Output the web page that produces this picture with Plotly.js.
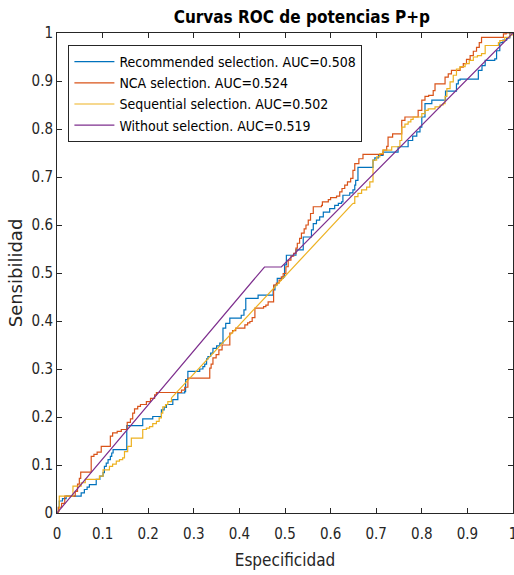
<!DOCTYPE html>
<html>
<head>
<meta charset="utf-8">
<script src="https://cdn.plot.ly/plotly-3.0.1.min.js"></script>
<style>html,body{margin:0;padding:0;background:#fff;overflow:hidden;}#plot{width:514px;height:575px;}</style>
</head>
<body>
<div id="plot"></div>
<script>
// ---- Data ----
const seriesNames = [
  "Recommended selection. AUC=0.508",
  "NCA selection. AUC=0.524",
  "Sequential selection. AUC=0.502",
  "Without selection. AUC=0.519"
];
const tickVals = [0,0.1,0.2,0.3,0.4,0.5,0.6,0.7,0.8,0.9,1];
const tickText = ["0","0.1","0.2","0.3","0.4","0.5","0.6","0.7","0.8","0.9","1"];

// Recommended selection (staircase corners)
const recX = [0,0.003,0.005,0.012,0.020,0.053,0.060,0.066,0.071,0.086,0.094,0.101,0.104,0.108,0.112,0.117,0.120,0.123,0.153,0.188,0.210,0.229,0.235,0.240,0.254,0.265,0.280,0.282,0.287,0.313,0.320,0.324,0.328,0.331,0.337,0.342,0.350,0.357,0.364,0.370,0.379,0.404,0.410,0.414,0.441,0.474,0.478,0.483,0.496,0.499,0.503,0.524,0.540,0.558,0.562,0.569,0.576,0.584,0.598,0.609,0.617,0.624,0.627,0.642,0.649,0.653,0.655,0.660,0.693,0.697,0.705,0.715,0.748,0.770,0.780,0.789,0.796,0.800,0.807,0.822,0.852,0.876,0.880,0.884,0.924,0.932,0.939,0.960,0.964,0.971,0.978,0.986,0.993,1];
const recY = [0,0.012,0.025,0.030,0.035,0.042,0.049,0.054,0.059,0.070,0.077,0.084,0.097,0.104,0.111,0.118,0.125,0.132,0.182,0.196,0.201,0.215,0.220,0.226,0.236,0.250,0.253,0.278,0.295,0.300,0.305,0.310,0.321,0.326,0.333,0.343,0.348,0.354,0.385,0.395,0.406,0.412,0.423,0.447,0.454,0.465,0.475,0.489,0.492,0.517,0.537,0.548,0.575,0.590,0.603,0.610,0.617,0.627,0.634,0.641,0.645,0.648,0.662,0.667,0.673,0.683,0.693,0.720,0.735,0.740,0.745,0.752,0.763,0.776,0.785,0.794,0.804,0.825,0.853,0.860,0.879,0.894,0.902,0.904,0.922,0.932,0.943,0.946,0.963,0.980,0.985,0.990,1.0,1];

// NCA selection (staircase corners)
const ncaX = [0,0.003,0.010,0.017,0.040,0.045,0.049,0.052,0.075,0.081,0.088,0.097,0.117,0.122,0.132,0.141,0.154,0.161,0.166,0.170,0.177,0.183,0.196,0.205,0.214,0.218,0.273,0.280,0.287,0.335,0.338,0.342,0.349,0.355,0.362,0.379,0.385,0.392,0.412,0.418,0.423,0.428,0.434,0.453,0.458,0.463,0.475,0.481,0.487,0.492,0.496,0.502,0.507,0.513,0.519,0.524,0.527,0.532,0.536,0.542,0.546,0.551,0.556,0.562,0.580,0.582,0.595,0.600,0.613,0.620,0.625,0.631,0.637,0.644,0.649,0.653,0.662,0.671,0.715,0.723,0.726,0.736,0.756,0.763,0.792,0.800,0.807,0.815,0.825,0.829,0.851,0.858,0.865,0.884,0.891,0.898,0.906,0.913,0.920,0.926,0.931,0.979,0.985,1];
const ncaY = [0,0.012,0.020,0.035,0.045,0.060,0.072,0.085,0.118,0.122,0.127,0.139,0.160,0.167,0.170,0.174,0.189,0.196,0.208,0.217,0.222,0.226,0.232,0.239,0.246,0.251,0.256,0.262,0.281,0.302,0.310,0.323,0.330,0.340,0.350,0.375,0.380,0.385,0.392,0.396,0.399,0.407,0.427,0.430,0.433,0.440,0.475,0.479,0.485,0.492,0.499,0.513,0.527,0.535,0.541,0.552,0.562,0.572,0.583,0.592,0.600,0.610,0.624,0.638,0.641,0.648,0.653,0.657,0.660,0.669,0.676,0.683,0.690,0.697,0.714,0.728,0.738,0.747,0.756,0.764,0.783,0.790,0.818,0.825,0.839,0.860,0.868,0.870,0.880,0.894,0.908,0.915,0.922,0.929,0.936,0.945,0.953,0.962,0.970,0.980,0.991,0.998,1.0,1];

// Sequential selection: lower staircase, straight stretch, upper staircase
const seqLowX = [0,0.002,0.005,0.035,0.053,0.062,0.093,0.101,0.115,0.122,0.130,0.137,0.144,0.148,0.155,0.163,0.188,0.196,0.203,0.210,0.218,0.224,0.229,0.232,0.238,0.243,0.251];
const seqLowY = [0,0.004,0.035,0.056,0.063,0.070,0.077,0.090,0.097,0.102,0.108,0.111,0.115,0.128,0.139,0.156,0.174,0.177,0.180,0.186,0.191,0.198,0.208,0.221,0.226,0.232,0.240];
const seqMidX = [0.251,0.649];
const seqMidY = [0.240,0.645];
const seqUpX = [0.649,0.653,0.660,0.668,0.679,0.686,0.693,0.701,0.708,0.715,0.734,0.752,0.756,0.763,0.770,0.776,0.781,0.800,0.807,0.814,0.829,0.840,0.847,0.851,0.855,0.862,0.869,0.876,0.884,0.895,0.904,0.913,0.922,0.931,0.939,0.968,0.971,0.982,0.993,1];
const seqUpY = [0.645,0.659,0.666,0.673,0.679,0.690,0.735,0.742,0.749,0.756,0.763,0.776,0.804,0.810,0.815,0.820,0.825,0.832,0.839,0.842,0.846,0.850,0.853,0.868,0.884,0.898,0.912,0.925,0.930,0.936,0.943,0.950,0.953,0.957,0.974,0.980,0.984,0.991,0.996,1];

// Without selection
const woX = [0,0.455,0.492,1];
const woY = [0,0.5125,0.5125,1];

// ---- Styling ----
const colors = ["#0072BD","#D95319","#EDB120","#7E2F8E"];
const axisColor = "#262626";
const fontC = "DejaVu Sans Condensed, DejaVu Sans, sans-serif";
const lw = 1.2;

const traces = [
  {x: recX, y: recY, mode:"lines", line:{color:colors[0], width:lw, shape:"hv"}, name: seriesNames[0]},
  {x: ncaX, y: ncaY, mode:"lines", line:{color:colors[1], width:lw, shape:"hv"}, name: seriesNames[1]},
  {x: seqLowX, y: seqLowY, mode:"lines", line:{color:colors[2], width:lw, shape:"hv"}, name: seriesNames[2], legendgroup:"seq"},
  {x: seqMidX, y: seqMidY, mode:"lines", line:{color:colors[2], width:lw}, name: seriesNames[2], legendgroup:"seq", showlegend:false},
  {x: seqUpX, y: seqUpY, mode:"lines", line:{color:colors[2], width:lw, shape:"hv"}, name: seriesNames[2], legendgroup:"seq", showlegend:false},
  {x: woX, y: woY, mode:"lines", line:{color:colors[3], width:lw}, name: seriesNames[3]}
];

const axisCommon = {
  range:[0,1], tickmode:"array", tickvals: tickVals, ticktext: tickText,
  ticks:"inside", ticklen:5, tickcolor:axisColor, tickwidth:1,
  showline:true, linecolor:axisColor, linewidth:1, mirror:"ticks",
  showgrid:false, zeroline:false, fixedrange:true,
  tickfont:{family:fontC, size:15, color:axisColor}
};

const layout = {
  width:514, height:575,
  margin:{l:57, r:1, t:33, b:62},
  paper_bgcolor:"#fff", plot_bgcolor:"#fff",
  showlegend:true,
  title:{text:"<b>Curvas ROC de potencias P+p</b>", font:{family:fontC, size:17, color:"#000"},
         xref:"paper", x:0.537, xanchor:"center", yref:"container", y:0.971, yanchor:"middle"},
  xaxis: Object.assign({}, axisCommon, {ticklabeloverflow:"allow", ticklabelstandoff:7,
         title:{text:"Especificidad", font:{family:fontC, size:17, color:axisColor}, standoff:12}}),
  yaxis: Object.assign({}, axisCommon, {title:{text:"Sensibilidad", font:{family:"DejaVu Sans, sans-serif", size:18, color:axisColor}, standoff:4}}),
  legend:{x:0.025, y:0.975, xanchor:"left", yanchor:"top", bgcolor:"#fff", bordercolor:axisColor, borderwidth:1,
          font:{family:fontC, size:14, color:"#000"}, itemwidth:40, traceorder:"normal"}
};

Plotly.newPlot("plot", traces, layout, {staticPlot:true, displayModeBar:false});
</script>
</body>
</html>
